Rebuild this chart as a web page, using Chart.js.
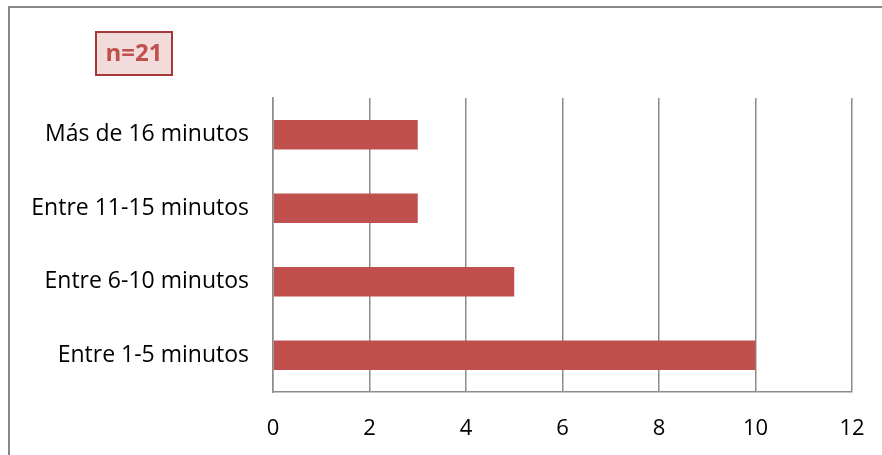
<!DOCTYPE html>
<html>
<head>
<meta charset="utf-8">
<script src="https://cdn.jsdelivr.net/npm/chart.js@4"></script>
<style>
  html, body { margin: 0; padding: 0; background: #fff; }
  #wrap { width: 882px; height: 455px; position: relative; }
</style>
</head>
<body>
<div id="wrap"><canvas id="timeChart"></canvas></div>
<script>
const categories = ["Más de 16 minutos", "Entre 11-15 minutos", "Entre 6-10 minutos", "Entre 1-5 minutos"];
const counts = [3, 3, 5, 10];
const sampleLabel = "n=21";

// border of the chart area + the n=21 box
const decorations = {
    id: "decorations",
    afterDraw(chart) {
        const ctx = chart.ctx;
        ctx.save();
        ctx.strokeStyle = "#878787";
        ctx.lineWidth = 2;
        ctx.beginPath();
        ctx.moveTo(9, 460);
        ctx.lineTo(9, 7);
        ctx.lineTo(890, 7);
        ctx.stroke();

        ctx.fillStyle = "#f2dcdb";
        ctx.fillRect(96, 32, 76, 43);
        ctx.strokeStyle = "#a33a37";
        ctx.strokeRect(96, 32, 76, 43);
        ctx.fillStyle = "#c0504d";
        ctx.font = "bold 24px 'Open Sans'";
        ctx.textAlign = "center";
        ctx.textBaseline = "middle";
        ctx.fillText(sampleLabel, 134, 54);
        ctx.restore();
    }
};

new Chart(document.getElementById("timeChart"), {
    type: "bar",
    data: {
        labels: categories,
        datasets: [{
            data: counts,
            backgroundColor: "#c0504d",
            barPercentage: 0.4,
            categoryPercentage: 1
        }]
    },
    options: {
        indexAxis: "y",
        responsive: true,
        maintainAspectRatio: false,
        animation: false,
        layout: { padding: { top: 98, right: 30, bottom: 0, left: 20 } },
        plugins: { legend: { display: false }, tooltip: { enabled: false } },
        scales: {
            x: {
                min: 0,
                max: 12,
                ticks: { stepSize: 2, color: "#000", font: { family: "Open Sans", size: 22 }, padding: 24 },
                grid: { color: "#8c8c8c", lineWidth: 1.5, drawTicks: false },
                border: { color: "#8c8c8c", width: 1.5 },
                afterFit(scale) {
                    scale.height = 63;
                    scale.paddingLeft = 0;
                    scale.paddingRight = 0;
                }
            },
            y: {
                ticks: { color: "#000", font: { family: "Open Sans", size: 23 }, padding: 24 },
                grid: { display: false, drawTicks: false },
                border: { color: "#8c8c8c", width: 1.5 },
                afterFit(scale) { scale.width = 253; }
            }
        }
    },
    plugins: [decorations]
});
</script>
</body>
</html>
